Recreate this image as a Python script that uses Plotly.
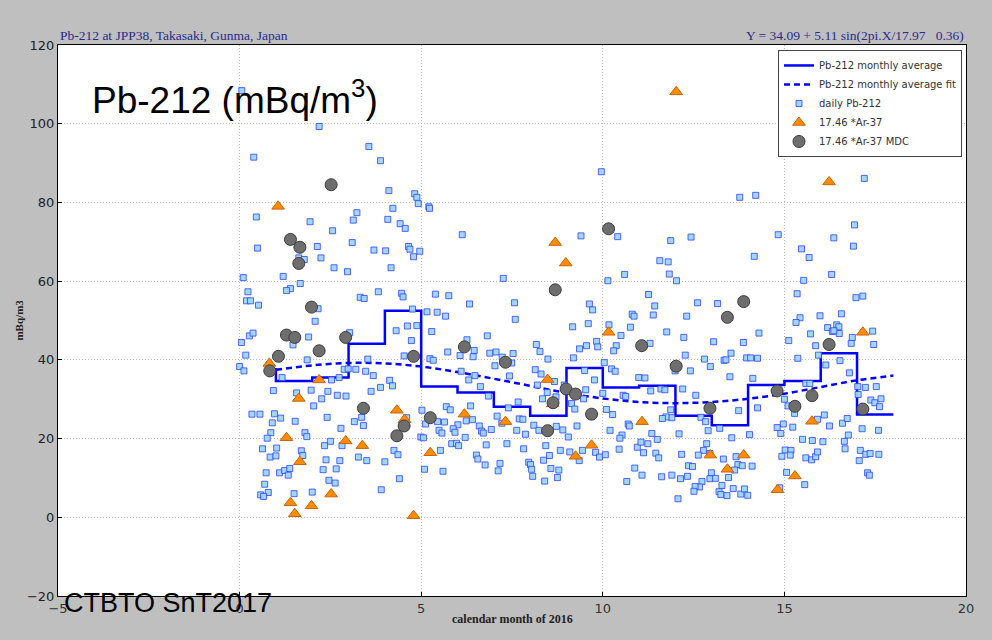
import plotly.graph_objects as go

# ---- data ----
avg_month = [1, 2, 3, 4, 5, 6, 7, 8, 9, 10, 11, 12, 13, 14, 15, 16, 17, 18]
avg_value = [37.9, 34.6, 35.5, 44.1, 52.5, 33.2, 31.7, 28.1, 25.8, 37.9, 33.0, 33.4,
             25.8, 23.4, 33.6, 34.6, 41.7, 26.1]

fit_month = [1, 2, 3, 4, 5, 6, 7, 8, 9, 10, 11, 12, 13, 14, 15, 16, 17, 18]
fit_value = [37.5, 38.6, 39.2, 39.1, 38.3, 36.9, 35.2, 33.4, 31.6, 30.2, 29.3, 29.0,
             29.3, 30.1, 31.4, 33.1, 34.8, 36.0]

daily_month = [
    0.06, 2.19, 3.56, 3.88, 0.39, 0.46, 3.23, 3.13, 1.94, 2.56, 0.49, 3.10, 2.14, 3.70, 1.63, 1.78,
    2.24, 2.60, 2.97, 0.10, 1.20, 1.67, 1.40, 1.29, 0.23, 0.19, 0.30, 0.52, 3.32, 3.43, 3.82, 2.16,
    2.08, 0.05, 0.27, 0.37, 1.47, 1.90, 3.03, 0.17, 0.00, 0.12, 1.86, 1.17, 2.88, 2.99, 3.20, 3.47,
    3.53, 2.53, 2.74, 3.68, 3.88, 3.62, 0.93, 1.57, 1.97, 2.43, 2.26, 2.69, 2.93, 2.04, 0.34, 0.56,
    0.96, 1.13, 2.41, 3.36, 3.16, 3.41, 0.90, 1.53, 2.79, 0.86, 0.76, 1.80, 1.85, 2.50, 2.34, 2.82,
    1.02, 0.63, 1.70, 1.74, 0.84, 1.00, 3.27, 3.50, 2.38, 2.76, 0.73, 1.10, 1.24, 1.38, 1.34, 2.30,
    2.66, 2.46, 2.63, 0.69, 0.79, 0.58, 0.66, 1.50, 2.00, 3.90,
    4.11, 4.82, 4.88, 4.92, 5.21, 5.23, 4.22, 4.08, 4.42, 4.56, 6.13, 4.65, 4.69, 4.96, 4.02, 4.79,
    4.17, 7.26, 4.46, 4.50, 5.39, 5.76, 6.33, 7.57, 7.59, 4.76, 5.16, 5.44, 5.67, 4.31, 4.62, 4.88,
    5.29, 4.73, 6.82, 4.53, 5.24, 5.33, 5.73, 6.07, 6.26, 6.46, 6.43, 6.89, 7.06, 7.23, 7.53, 7.03,
    7.49, 6.10, 6.31, 6.48, 7.43, 6.63, 4.13, 4.21, 6.85, 7.67, 7.40, 5.02, 5.69, 5.80, 6.36, 4.60,
    5.12, 5.45, 5.64, 5.49, 5.57, 6.01, 5.88, 5.93, 6.24, 6.41, 6.60, 6.66, 6.71, 6.93, 7.09, 7.22,
    7.70, 7.80, 7.87, 7.63, 4.99, 5.06, 6.21, 5.84, 5.97, 6.03, 6.79, 7.36, 7.82, 4.25, 4.36, 5.53,
    6.52, 6.56, 6.76, 7.17, 7.12, 4.00, 5.09, 5.60, 4.40,
    9.96, 9.40, 10.41, 11.87, 11.57, 11.80, 11.83, 10.60, 10.14, 11.26, 9.63, 9.72, 11.43, 10.81,
    10.86, 11.39, 9.60, 9.17, 10.76, 10.17, 11.76, 10.50, 9.83, 9.86, 9.55, 9.36, 10.37, 10.30,
    11.30, 8.17, 8.27, 8.49, 9.19, 10.04, 10.24, 10.34, 8.14, 8.30, 9.50, 8.67, 9.77, 10.99, 11.16,
    8.20, 8.94, 9.53, 8.47, 8.71, 8.34, 9.47, 10.00, 10.56, 10.63, 11.32, 11.60, 11.71, 9.14, 9.23,
    10.10, 10.27, 11.87, 11.90, 11.74, 11.64, 8.10, 8.24, 8.72, 8.90, 9.29, 10.20, 10.70, 10.73,
    10.53, 10.47, 11.35, 11.50, 9.05, 8.43, 8.83, 9.09, 9.44, 9.80, 9.91, 10.07, 10.45, 10.95,
    11.05, 11.12, 11.24, 11.46, 11.54, 9.35, 8.53, 7.96, 8.01, 8.37, 8.04, 8.57, 8.79, 10.88, 11.08,
    11.62, 11.90, 8.07, 8.75, 8.40, 10.66,
    13.77, 14.21, 14.83, 12.43, 15.47, 15.68, 14.17, 12.03, 15.53, 15.35, 12.61, 13.16, 12.31,
    15.43, 15.32, 15.98, 14.30, 12.23, 13.05, 13.87, 15.72, 15.86, 15.94, 15.12, 13.53, 12.27,
    12.80, 13.34, 13.39, 13.96, 14.07, 14.26, 15.37, 12.96, 12.41, 11.99, 13.50, 14.13, 15.59,
    15.70, 12.20, 12.56, 15.00, 15.10, 14.26, 13.74, 12.70, 12.83, 15.28, 15.91, 14.97, 14.80,
    14.90, 15.23, 13.22, 12.90, 12.10, 14.04, 13.55, 15.50, 15.77, 12.86, 12.77, 12.63, 12.17,
    12.95, 15.02, 15.18, 14.93, 15.16, 15.59, 15.75, 15.86, 15.91, 13.32, 13.67, 13.72, 13.84,
    14.11, 12.36, 12.47, 12.14, 12.33, 12.99, 12.95, 13.10, 13.46, 13.63, 12.73, 12.66, 12.54,
    12.51, 13.28, 13.20, 13.25, 13.42, 13.59, 13.80, 13.90, 13.99, 12.07, 15.06, 15.56, 14.87,
    17.20, 16.93, 16.36, 16.90, 16.30, 16.97, 17.16, 16.57, 17.43, 17.46, 16.84, 16.87, 16.19,
    16.32, 16.44, 16.50, 16.51, 16.36, 16.14, 16.53, 16.79, 17.02, 17.03, 17.23, 17.53, 17.38,
    17.49, 17.66, 17.62, 16.10, 16.24, 16.60, 16.73, 17.14, 17.59, 16.76, 16.65, 16.06, 16.67,
    17.09, 17.24, 17.36, 17.60, 17.06, 17.29, 17.34,
]
daily_value = [
    108.4, 99.3, 94.2, 90.6, 91.5, 76.3, 77.4, 75.5, 75.1, 72.8, 68.4, 69.8, 68.8, 67.9, 65.9, 65.5,
    65.9, 63.4, 62.4, 60.9, 61.2, 59.4, 58.1, 57.6, 57.3, 55.0, 55.0, 53.9, 55.9, 55.6, 57.3, 53.0,
    49.8, 44.4, 46.1, 46.8, 43.8, 45.8, 46.9, 41.2, 38.3, 37.2, 40.0, 35.5, 37.6, 37.7, 37.6, 37.1,
    40.2, 34.9, 35.5, 36.0, 33.0, 32.0, 32.2, 31.6, 32.3, 32.0, 30.1, 31.0, 30.8, 28.3, 26.2, 26.2,
    26.3, 25.2, 25.4, 25.4, 24.3, 23.3, 24.0, 24.4, 22.6, 21.5, 20.1, 21.5, 20.5, 19.3, 18.2, 18.2,
    17.6, 17.4, 16.9, 15.7, 15.3, 15.6, 15.3, 14.4, 14.6, 14.4, 11.3, 11.3, 11.9, 12.4, 10.7, 12.1,
    12.3, 9.4, 8.7, 8.4, 6.3, 5.7, 5.3, 6.0, 6.4, 7.0,
    83.0, 82.2, 81.3, 79.7, 78.9, 78.5, 78.5, 75.7, 74.6, 73.4, 71.8, 68.8, 68.1, 67.6, 67.7, 66.2,
    63.4, 60.7, 56.9, 56.0, 56.7, 56.3, 54.2, 54.5, 50.3, 52.9, 52.2, 52.1, 51.1, 47.4, 48.6, 48.7,
    47.2, 44.9, 46.1, 41.0, 40.3, 39.9, 42.0, 41.1, 45.1, 42.4, 40.8, 41.7, 42.0, 40.7, 41.6, 38.5,
    39.2, 37.1, 34.9, 36.0, 35.9, 33.2, 34.8, 33.4, 30.8, 29.3, 27.8, 27.2, 28.1, 27.3, 28.3, 25.3,
    23.7, 24.3, 24.2, 22.1, 21.4, 23.5, 22.5, 21.6, 24.5, 24.8, 23.2, 21.9, 21.4, 22.3, 25.7, 23.9,
    25.0, 24.9, 21.1, 22.1, 20.4, 20.2, 20.3, 18.7, 18.8, 18.2, 18.4, 18.7, 17.4, 17.0, 15.9, 17.0,
    15.8, 14.8, 13.3, 13.7, 11.8, 14.1, 12.2, 11.7, 9.8,
    87.8, 71.5, 71.3, 70.3, 65.2, 64.9, 61.8, 61.7, 60.1, 56.6, 54.2, 52.7, 53.7, 51.6,
    51.1, 51.4, 49.2, 48.4, 48.3, 48.9, 47.1, 46.2, 44.7, 43.3, 43.6, 42.8, 43.6, 42.3,
    44.2, 43.9, 42.1, 40.2, 40.5, 39.3, 37.7, 37.1, 37.5, 36.4, 37.3, 34.5, 34.9, 35.5, 35.4,
    33.6, 33.6, 32.4, 31.7, 30.6, 30.1, 30.1, 31.5, 31.0, 30.7, 32.1, 32.6, 32.4, 28.9, 27.5,
    27.4, 26.1, 27.3, 25.3, 25.5, 25.1, 23.4, 22.1, 23.1, 22.2, 23.2, 22.1, 23.7, 23.2,
    20.9, 20.1, 21.3, 19.8, 20.4, 18.2, 17.0, 16.6, 17.0, 16.5, 15.3, 15.9, 17.3, 17.8,
    19.1, 16.4, 18.7, 16.3, 15.1, 14.4, 15.7, 14.0, 13.4, 14.5, 12.2, 12.4, 12.0, 12.5, 10.7,
    10.3, 10.7, 10.4, 10.1, 9.2, 9.1,
    81.3, 81.8, 71.8, 71.2, 68.2, 66.0, 66.3, 60.1, 60.2, 56.8, 54.5, 54.3, 51.1,
    50.7, 49.5, 51.2, 46.8, 45.7, 44.6, 44.4, 46.6, 43.6, 41.2, 44.9, 41.7, 41.2,
    40.2, 39.9, 40.0, 40.5, 40.5, 40.4, 40.4, 38.3, 37.2, 37.2, 35.7, 35.3, 34.0,
    34.0, 32.6, 31.0, 30.0, 28.3, 27.8, 27.1, 25.4, 24.3, 26.4, 24.9, 23.7, 22.8,
    21.3, 22.9, 22.6, 22.0, 21.2, 21.0, 20.2, 19.8, 19.5, 18.7, 17.0, 15.8, 16.0,
    16.2, 17.1, 17.0, 15.5, 15.8, 15.1, 14.6, 15.4, 16.6, 14.8, 15.4, 13.4, 13.1,
    13.0, 13.1, 12.9, 9.8, 10.4, 11.3, 9.8, 9.9, 10.1, 12.0, 9.1, 7.7, 7.8,
    6.6, 8.1, 6.5, 5.8, 5.5, 7.3, 5.9, 7.2, 5.6, 4.7, 11.4, 8.3, 7.5,
    86.1, 74.3, 71.0, 68.9, 61.7, 55.8, 56.2, 51.7, 47.3, 43.9, 44.2, 45.7, 48.2,
    47.2, 48.9, 48.4, 46.7, 47.4, 38.7, 39.8, 36.7, 33.2, 31.2, 33.0, 33.2, 29.8,
    29.1, 30.1, 28.1, 26.0, 23.2, 23.9, 25.1, 22.5, 22.1, 20.9, 19.3, 19.2, 17.4,
    17.0, 16.0, 16.2, 16.0, 14.4, 11.3, 10.7,
]

ar37_month = [1.06, 0.82, 2.19, 1.63, 1.29, 2.92, 3.38, 1.66, 2.52, 1.40, 1.98, 1.52,
              4.33, 4.54, 6.19, 7.32, 5.25, 4.79,
              8.69, 8.98, 10.16, 8.48, 8.62, 11.08, 9.69, 9.25, 12.02,
              12.96, 13.88, 13.43, 15.29, 14.81, 15.76, 16.23, 17.16]
ar37_value = [79.0, 39.1, 34.9, 30.2, 20.2, 19.4, 18.2, 14.1, 5.9, 3.7, 2.9, 0.9,
              27.2, 24.8, 26.2, 24.3, 16.4, 0.4,
              69.8, 64.6, 47.0, 35.0, 28.8, 24.3, 18.3, 15.5, 108.1,
              15.8, 15.8, 12.2, 10.5, 7.0, 24.4, 85.2, 47.0]

mdc_month = [2.52, 1.40, 1.66, 1.63, 1.98, 1.29, 1.52, 2.92, 2.19, 1.07, 0.83, 3.41,
             4.79, 6.19, 7.32, 5.25, 4.53, 4.33,
             10.16, 8.69, 11.07, 8.99, 9.25, 8.63, 9.69, 8.48, 12.02,
             13.88, 13.43, 12.95, 14.80, 15.29, 15.76, 16.23, 17.16]
mdc_value = [84.5, 70.6, 68.6, 64.5, 53.4, 46.3, 45.7, 45.7, 42.3, 40.9, 37.2, 27.7,
             40.9, 43.3, 39.4, 25.3, 23.2, 20.7,
             73.3, 57.8, 43.6, 32.6, 31.3, 29.1, 26.2, 22.0, 38.4,
             54.8, 50.8, 27.7, 32.1, 28.2, 30.9, 43.9, 27.5]

x_ticks = [-5, 0, 5, 10, 15, 20]
y_ticks = [-20, 0, 20, 40, 60, 80, 100, 120]

TITLE = "Pb-212 at JPP38, Takasaki, Gunma, Japan"
FORMULA = "Y = 34.09 + 5.11 sin(2pi.X/17.97   0.36)"


def tick_text(vals):
    return [("\u2212" + str(-v)) if v < 0 else str(v) for v in vals]


# ---- figure ----
fig = go.Figure()

fig.add_trace(go.Scatter(
    x=avg_month, y=avg_value, mode="lines", name="Pb-212 monthly average",
    line=dict(color="#0000ff", width=2.5, shape="vh")))
fig.add_trace(go.Scatter(
    x=fit_month, y=fit_value, mode="lines", name="Pb-212 monthly average fit",
    line=dict(color="#0000ff", width=2.5, dash="6px,4px", shape="spline")))
fig.add_trace(go.Scatter(
    x=daily_month, y=daily_value, mode="markers", name="daily Pb-212",
    marker=dict(symbol="square", size=6, color="rgba(160,212,245,0.95)",
                line=dict(color="rgba(40,70,255,0.8)", width=1))))
fig.add_trace(go.Scatter(
    x=ar37_month, y=ar37_value, mode="markers", name="17.46 *Ar-37",
    marker=dict(symbol="triangle-up", size=11, color="#ff8c00",
                line=dict(color="#c8640a", width=1))))
fig.add_trace(go.Scatter(
    x=mdc_month, y=mdc_value, mode="markers", name="17.46 *Ar-37 MDC",
    marker=dict(symbol="circle", size=12, color="#6e6e6e",
                line=dict(color="#3c3c3c", width=1))))

axis_common = dict(
    showline=True, linecolor="black", linewidth=1, mirror=True,
    showgrid=True, gridcolor="#bcbcbc", griddash="1px,2px", gridwidth=1,
    zeroline=False, ticks="inside", ticklen=4, tickcolor="black",
)

fig.update_layout(
    width=992, height=640,
    paper_bgcolor="#bfbfbf", plot_bgcolor="white",
    margin=dict(l=58, r=26, t=45, b=44),
    font=dict(family="DejaVu Sans", size=13, color="#222222"),
    xaxis=dict(range=[-5, 20], tickvals=x_ticks, ticktext=tick_text(x_ticks),
               tickfont=dict(family="DejaVu Sans", size=13, color="#333333"),
               **axis_common),
    yaxis=dict(range=[-20, 120], tickvals=y_ticks, ticktext=tick_text(y_ticks),
               tickfont=dict(family="DejaVu Sans", size=13, color="#222222"),
               **axis_common),
    showlegend=True,
    legend=dict(x=0.9956, y=0.991, xanchor="right", yanchor="top",
                bgcolor="white", bordercolor="#444444", borderwidth=1,
                font=dict(family="DejaVu Sans", size=10, color="#333333"),
                itemwidth=30, tracegroupgap=0),
)

annotations = [
    dict(text=TITLE, x=0, y=1, xref="paper", yref="paper", xanchor="left", yanchor="bottom",
         showarrow=False, font=dict(family="Liberation Serif", size=13.5, color="#2a2a8c")),
    dict(text=FORMULA, x=1, y=1, xref="paper", yref="paper", xanchor="right", yanchor="bottom",
         showarrow=False, font=dict(family="Liberation Serif", size=13.5, color="#2a2a8c")),
    dict(text="Pb-212 (mBq/m<sup>3</sup>)", x=0.035, y=0.905, xref="paper", yref="paper",
         xanchor="left", yanchor="middle", showarrow=False,
         font=dict(family="Liberation Sans", size=37, color="black")),
    dict(text="CTBTO SnT2017", x=0.004, y=-0.0127, xref="paper", yref="paper",
         xanchor="left", yanchor="middle", showarrow=False,
         font=dict(family="Liberation Sans", size=27, color="black")),
    dict(text="<b>calendar month of 2016</b>", x=0.5, y=-0.042, xref="paper", yref="paper",
         xanchor="center", yanchor="middle", showarrow=False,
         font=dict(family="Liberation Serif", size=12, color="#222222")),
    dict(text="<b>mBq/m3</b>", x=-0.044, y=0.5, xref="paper", yref="paper",
         xanchor="center", yanchor="middle", showarrow=False, textangle=-90,
         font=dict(family="Liberation Serif", size=11, color="#222222")),
]
fig.update_layout(annotations=annotations)

fig.write_html("out.html", config={"displayModeBar": False},
               post_script="document.body.style.margin='0px';")
